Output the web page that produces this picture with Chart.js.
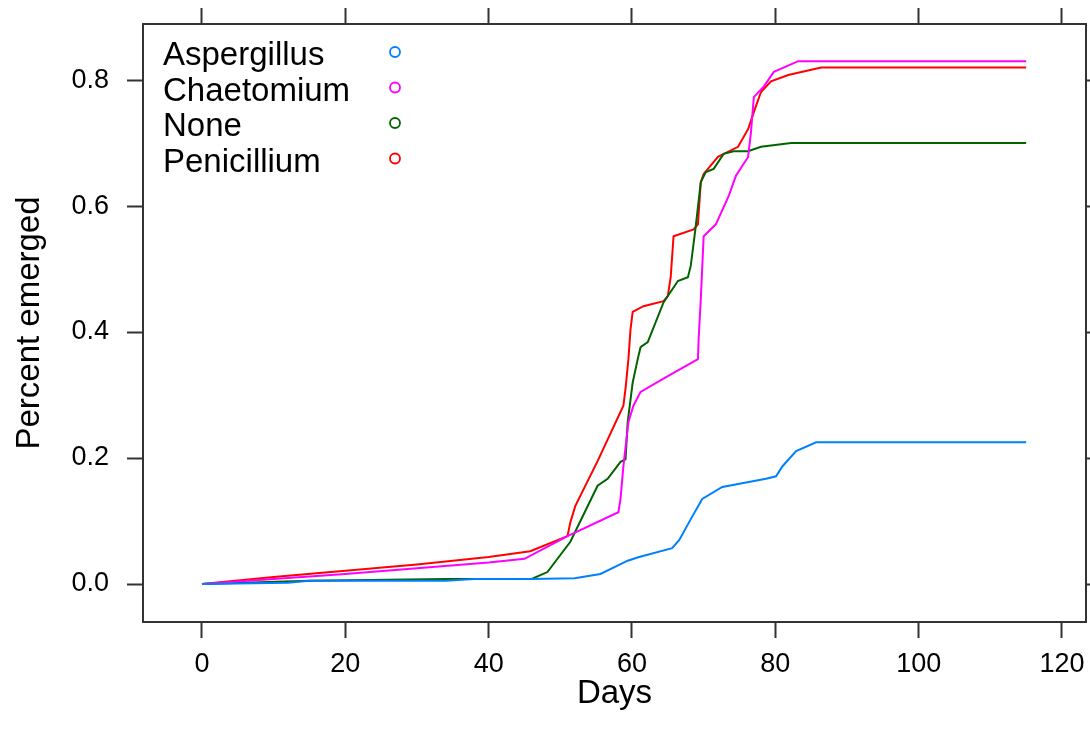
<!DOCTYPE html>
<html>
<head>
<meta charset="utf-8">
<script src="https://cdn.jsdelivr.net/npm/chart.js@4.4.1/dist/chart.umd.min.js"></script>
<style>
  html, body { margin: 0; padding: 0; background: #fff; }
  #wrap { width: 1090px; height: 749px; }
</style>
</head>
<body>
<div id="wrap"><canvas id="chart" width="1090" height="749"></canvas></div>
<script>
// ── Data ──────────────────────────────────────────────────────
const seriesLabels = ['Aspergillus', 'Chaetomium', 'None', 'Penicillium'];
const seriesColors = ['#0080ff', '#ff00ff', '#006400', '#ff0000'];

const aspergillusDays   = [0, 12, 15, 34, 38, 46, 52, 55.6, 59.4, 61, 65.6, 66.6, 68.4, 69.8, 72.6, 78.7, 80.1, 81, 82.9, 85.7, 115];
const aspergillusValues = [0, 0.002, 0.005, 0.005, 0.008, 0.008, 0.009, 0.016, 0.037, 0.043, 0.057, 0.07, 0.107, 0.135, 0.154, 0.167, 0.171, 0.187, 0.211, 0.225, 0.225];

const chaetomiumDays   = [0, 10, 20, 30, 40, 45, 51, 58.1, 58.4, 58.8, 59.5, 60.2, 61.2, 65, 69.2, 69.3, 69.6, 70, 71.7, 73.5, 74.5, 76.2, 76.6, 77, 78.4, 79.8, 83.2, 115];
const chaetomiumValues = [0, 0.008, 0.016, 0.025, 0.034, 0.040, 0.076, 0.114, 0.135, 0.187, 0.257, 0.283, 0.305, 0.33, 0.357, 0.389, 0.452, 0.552, 0.571, 0.616, 0.648, 0.678, 0.717, 0.773, 0.79, 0.813, 0.83, 0.83];

const noneDays   = [0, 15, 34, 46, 48.2, 51.4, 55.2, 56.6, 58.4, 59.1, 59.4, 60.1, 60.8, 61.2, 62.2, 64.4, 66.4, 67.8, 68.2, 68.9, 69.6, 70.3, 71.4, 72.8, 74.2, 76.2, 78, 82.2, 115];
const noneValues = [0, 0.005, 0.008, 0.008, 0.019, 0.067, 0.156, 0.167, 0.194, 0.198, 0.257, 0.32, 0.357, 0.376, 0.384, 0.447, 0.481, 0.487, 0.505, 0.568, 0.638, 0.654, 0.659, 0.683, 0.687, 0.687, 0.694, 0.70, 0.70];

const penicilliumDays   = [0, 10, 20, 30, 40, 45.8, 51, 51.4, 52.1, 55.2, 58.8, 59.1, 59.5, 59.8, 60.1, 61.6, 64.4, 65, 65.4, 65.8, 68.6, 69.2, 69.6, 70, 72, 74.8, 76.2, 77, 78, 79.4, 81.8, 86.4, 115];
const penicilliumValues = [0, 0.011, 0.021, 0.031, 0.043, 0.052, 0.076, 0.098, 0.124, 0.195, 0.283, 0.31, 0.357, 0.405, 0.432, 0.441, 0.449, 0.457, 0.487, 0.552, 0.563, 0.571, 0.638, 0.651, 0.678, 0.694, 0.722, 0.749, 0.781, 0.798, 0.808, 0.82, 0.82];

const xTicks = [0, 20, 40, 60, 80, 100, 120];
const yTicks = [0, 0.2, 0.4, 0.6, 0.8];

const X_MIN = -8.23, X_MAX = 123.35;
const Y_MIN = -0.0603, Y_MAX = 0.889;

const FRAME = '#333333';
const FONT  = "'Liberation Sans', Arial, sans-serif";

const toPoints = (days, vals) => days.map((d, i) => ({ x: d, y: vals[i] }));

const allSeries = [
  toPoints(aspergillusDays, aspergillusValues),
  toPoints(chaetomiumDays, chaetomiumValues),
  toPoints(noneDays, noneValues),
  toPoints(penicilliumDays, penicilliumValues),
];

// ── Lattice-style key: text first, open circle to the right ───
const keyPlugin = {
  id: 'latticeKey',
  afterDraw(chart) {
    const { ctx } = chart;
    ctx.save();
    ctx.font = `33px ${FONT}`;
    ctx.textAlign = 'left';
    ctx.textBaseline = 'alphabetic';
    seriesLabels.forEach((label, i) => {
      const y = 65 + i * 35.5;
      ctx.fillStyle = '#000';
      ctx.fillText(label, 163, y);
      ctx.beginPath();
      ctx.arc(395, y - 13, 5, 0, Math.PI * 2);
      ctx.strokeStyle = seriesColors[i];
      ctx.lineWidth = 1.8;
      ctx.stroke();
    });
    ctx.restore();
  },
};

function fixedTicks(list) {
  return (scale) => { scale.ticks = list.map((v) => ({ value: v })); };
}

// pin every axis box so the plot frame lands where the reference has it
function pinBox(size) {
  return (s) => {
    if (s.isHorizontal()) s.height = size; else s.width = size;
    s.paddingTop = 0; s.paddingBottom = 0;
    s.paddingLeft = 0; s.paddingRight = 0;
  };
}

const tickGrid = {
  drawOnChartArea: false,
  drawTicks: true,
  tickLength: 16,
  tickWidth: 2,
  color: FRAME,
};
const frameBorder = { display: true, color: FRAME, width: 2 };

new Chart(document.getElementById('chart'), {
  type: 'line',
  data: {
    datasets: allSeries.map((pts, i) => ({
      label: seriesLabels[i],
      data: pts,
      borderColor: seriesColors[i],
      backgroundColor: seriesColors[i],
      borderWidth: 2,
      pointRadius: 0,
      tension: 0,
      fill: false,
    })),
  },
  options: {
    responsive: false,
    animation: false,
    devicePixelRatio: 1,
    layout: { padding: 0 },
    plugins: { legend: { display: false }, tooltip: { enabled: false } },
    scales: {
      x: {
        type: 'linear', position: 'bottom', min: X_MIN, max: X_MAX,
        afterBuildTicks: fixedTicks(xTicks),
        afterFit: pinBox(127),
        grid: tickGrid, border: frameBorder,
        ticks: {
          color: '#000', padding: 10, maxRotation: 0,
          font: { family: FONT, size: 27 },
          callback: (v) => String(Math.round(v)),
        },
        title: {
          display: true, text: 'Days', color: '#000',
          font: { family: FONT, size: 33 }, padding: { top: 0, bottom: 35 },
        },
      },
      xTop: {
        type: 'linear', position: 'top', min: X_MIN, max: X_MAX,
        afterBuildTicks: fixedTicks(xTicks),
        afterFit: pinBox(24),
        grid: tickGrid, border: frameBorder,
        ticks: { display: true, color: 'rgba(0,0,0,0)', font: { size: 1 } },
      },
      y: {
        type: 'linear', position: 'left', min: Y_MIN, max: Y_MAX,
        afterBuildTicks: fixedTicks(yTicks),
        afterFit: pinBox(143),
        grid: tickGrid, border: frameBorder,
        ticks: {
          color: '#000', padding: 18,
          font: { family: FONT, size: 27 },
          callback: (v) => v.toFixed(1),
        },
        title: {
          display: true, text: 'Percent emerged', color: '#000',
          font: { family: FONT, size: 33 }, padding: { top: 10, bottom: 0 },
        },
      },
      yRight: {
        type: 'linear', position: 'right', min: Y_MIN, max: Y_MAX,
        afterBuildTicks: fixedTicks(yTicks),
        afterFit: pinBox(4),
        grid: tickGrid, border: frameBorder,
        ticks: { display: true, color: 'rgba(0,0,0,0)', font: { size: 1 } },
      },
    },
  },
  plugins: [keyPlugin],
});
</script>
</body>
</html>
